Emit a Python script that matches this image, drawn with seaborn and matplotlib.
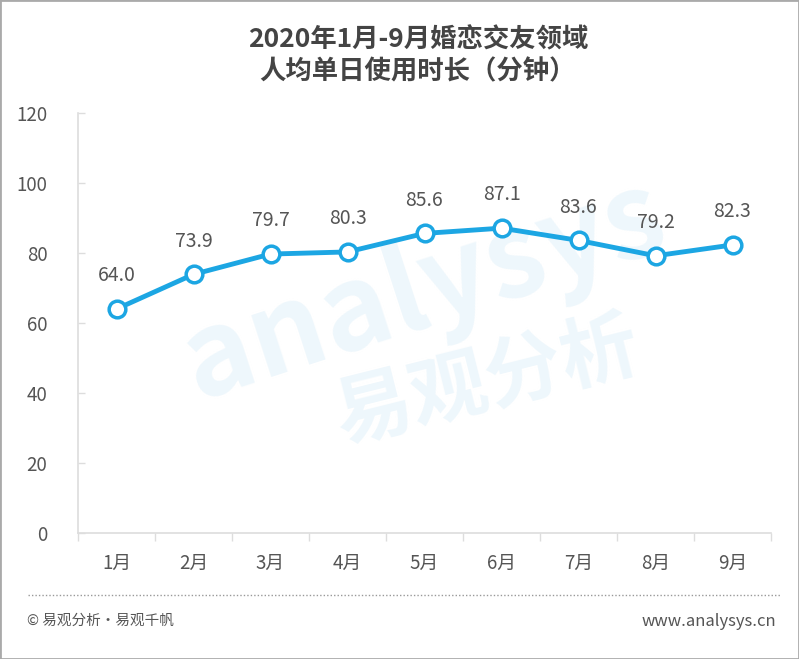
import matplotlib
matplotlib.use("Agg")
import matplotlib.pyplot as plt
import seaborn as sns
import pandas as pd
from matplotlib.patches import Rectangle
from matplotlib.lines import Line2D

months = ["1月", "2月", "3月", "4月", "5月", "6月", "7月", "8月", "9月"]
values = [64.0, 73.9, 79.7, 80.3, 85.6, 87.1, 83.6, 79.2, 82.3]
yticks = [0, 20, 40, 60, 80, 100, 120]
title = "2020年1月-9月婚恋交友领域\n人均单日使用时长（分钟）"
footer_left = "© 易观分析·易观千帆"
footer_right = "www.analysys.cn"

sns.set_theme(style="white")
plt.rcParams['font.family'] = ['Noto Sans CJK SC', 'DejaVu Sans']

df = pd.DataFrame({"month": months, "value": values})

fig = plt.figure(figsize=(7.99, 6.59), dpi=100)

# watermark (behind everything)
fig.text(0.53, 0.56, "analysys", fontsize=84, color="#eef7fc", fontweight="bold",
         style="italic", rotation=18, ha="center", va="center", zorder=-10)
fig.text(0.61, 0.42, "易观分析", fontsize=56, color="#eef7fc", fontweight="bold",
         rotation=14, ha="center", va="center", zorder=-10)

ax = fig.add_axes([78/799, 1-533/659, (771-78)/799, (533-113)/659])
ax.set_zorder(1)

blue = "#1ca6e3"
sns.lineplot(data=df, x="month", y="value", ax=ax, color=blue, linewidth=3.5,
             marker="o", markersize=12, markerfacecolor="white",
             markeredgecolor=blue, markeredgewidth=2.5, sort=False, zorder=3)

for i, v in enumerate(values):
    ax.annotate(f"{v:.1f}", xy=(i, v), xytext=(0, 24), textcoords="offset points",
                ha="center", va="center", fontsize=14, color="#555555")

ax.set_xlim(-0.5, len(months) - 0.5)
ax.set_ylim(0, 120)
ax.set_yticks(yticks)
ax.set_xlabel("")
ax.set_ylabel("")
ax.patch.set_alpha(0)

for s in ["top", "right"]:
    ax.spines[s].set_visible(False)
for s in ["left", "bottom"]:
    ax.spines[s].set_color("#dddddd")
    ax.spines[s].set_linewidth(1.2)

ax.tick_params(axis="y", direction="in", length=5, color="#dddddd", width=1,
               labelsize=13.5, labelcolor="#555555", pad=22, left=True)
ax.tick_params(axis="x", which="major", length=0, labelsize=13.5,
               labelcolor="#555555", pad=14)
ax.set_xticks([i + 0.5 for i in range(-1, len(months))], minor=True)
ax.tick_params(axis="x", which="minor", direction="out", length=6,
               color="#dddddd", width=1, bottom=True)

fig.text(418/799, 1-56/659, title, ha="center", va="center", fontsize=19,
         fontweight="bold", color="#444444", linespacing=1.2)

fig.add_artist(Line2D([28/799, 781/799], [1-595/659, 1-595/659], color="#999999",
                      linewidth=1, linestyle=(0, (1, 1.5))))
fig.text(27/799, 1-621/659, footer_left, ha="left", va="center", fontsize=10.5,
         color="#555555")
fig.text(776/799, 1-621/659, footer_right, ha="right", va="center", fontsize=12,
         color="#555555")

fig.add_artist(Rectangle((0, 0), 1, 1, transform=fig.transFigure, fill=False,
                         edgecolor="#aaaaaa", linewidth=2))

fig.savefig("out.png", dpi=100)
